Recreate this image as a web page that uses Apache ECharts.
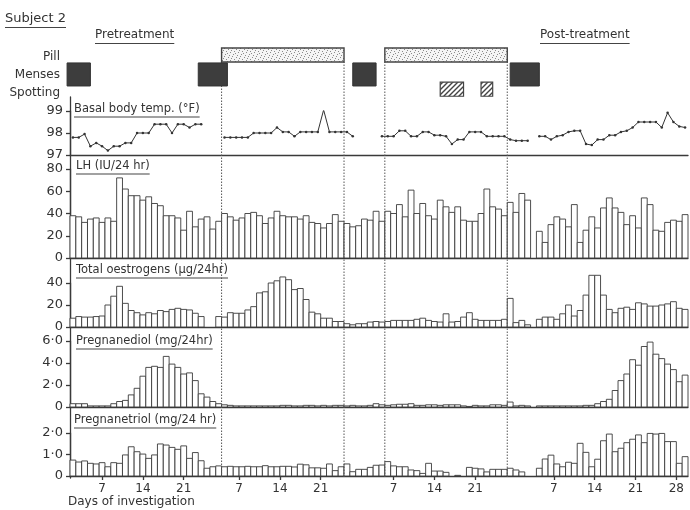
<!DOCTYPE html>
<html><head><meta charset="utf-8">
<script src="https://cdn.jsdelivr.net/npm/echarts@6/dist/echarts.min.js"></script>
<style>html,body{margin:0;padding:0;background:#fff}#c{width:690px;height:510px}</style>
</head><body><div id="c"></div>
<script>
// ---------------- DATA ----------------
const N = 106; // number of days shown (global day index 0..105)
// global index of cycle day 1 for each cycle, and the labelled cycle days
const cycleStarts = [-1, 22.5, 49, 76.5];
const cycleTickDays = [[7,14,21],[7,14,21],[7,14,21],[7,14,21,28]];
// event periods [start, end] in global days
const pillPeriods = [[26,47],[54,75]];
const mensesPeriods = [[-0.5,3.5],[22,27],[48.5,52.5],[75.5,80.5]];
const spottingPeriods = [[63.5,67.5],[70.5,72.5]];
const eventRows = ['Pill','Menses','Spotting'];

const bbt = [97.8,97.8,97.95,97.4,97.55,97.4,97.2,97.4,97.4,97.55,97.55,98.0,98.0,98.0,98.4,98.4,98.4,98.0,98.4,98.4,98.25,98.4,98.4,
 null,null,null,
 97.8,97.8,97.8,97.8,97.8,98.0,98.0,98.0,98.0,98.25,98.05,98.05,97.85,98.05,98.05,98.05,98.05,99.05,98.05,98.05,98.05,98.05,97.85,
 null,null,null,null,
 97.85,97.85,97.85,98.1,98.1,97.85,97.85,98.05,98.05,97.9,97.9,97.85,97.5,97.7,97.7,98.05,98.05,98.05,97.85,97.85,97.85,97.85,97.7,97.65,97.65,97.65,
 null,
 97.85,97.85,97.7,97.85,97.9,98.05,98.1,98.1,97.5,97.45,97.7,97.7,97.9,97.9,98.05,98.1,98.25,98.5,98.5,98.5,98.5,98.25,98.92,98.5,98.3,98.25];

const lh = [38,37,32,35,36,32,36,33,
 72,
 62,56,56,52,55,49,47,38,38,36,25,42,28,35,37,26,33,
 40,37,34,36,40,41,38,31,36,42,38,37,37,35,38,32,31,27,31,39,33,
 31,28,29,35,34,42,33,
 42,40,48,37,61,40,49,38,35,52,46,41,46,34,33,33,40,62,46,44,38,
 50,41,58,52,
 null,
 24,14,30,37,35,28,48,14,25,37,27,45,54,45,41,30,38,27,54,48,25,24,32,34,33,39];

const oestrogens = [8,9.5,9,9,9.5,10,
 20,28,37,
 21.5,15,13,11,13,12,15,14,16,17,16,15.5,12.5,9.5,
 null,null,
 9.5,
 9,13,12.5,12.5,15.5,18.5,31,32,40,42,45.5,43,34,35,25,13.5,12,8,8,5,5,
 3,2,3,3,4.5,5,4.5,
 5,6,6,6,6,7,8,6,5,4.5,12,4.5,5,9,13,7,6,6,6,6,7,
 26,4,6,2,
 null,
 7,9,9,7,12,20,10,15,29,47,47,29,16,13,17,18,16,22,21,19,19,20,21,23,17,16];

const pregnanediol = [0.3,0.3,0.3,0.1,0.1,0.1,0.1,0.3,0.5,0.6,
 1.1,1.7,2.8,3.6,3.7,3.6,4.6,3.9,3.6,3.0,3.1,2.4,1.2,0.9,0.5,0.3,
 0.2,0.15,0.1,0.1,0.1,0.1,0.1,0.1,0.1,0.1,0.15,0.15,0.1,0.1,0.15,0.15,0.1,0.15,0.1,0.15,0.15,
 0.1,0.15,0.1,0.1,0.15,0.3,0.2,
 0.15,0.2,0.25,0.25,0.3,0.15,0.15,0.2,0.2,0.15,0.2,0.2,0.2,0.1,0.05,0.15,0.1,0.1,0.2,0.2,0.15,
 0.45,0.1,0.15,0.1,null,
 0.1,0.1,0.1,0.1,0.1,0.1,0.1,0.1,
 0.15,0.15,0.3,0.5,0.7,1.5,2.4,3.0,4.3,3.8,5.5,5.9,4.8,4.4,3.9,3.4,2.3,2.9];

const pregnanetriol = [0.74,0.65,0.7,0.59,0.56,0.62,0.43,0.62,0.59,0.98,1.36,1.13,1.02,0.82,0.98,1.49,1.44,1.33,1.24,1.40,0.82,1.09,0.71,0.36,0.43,0.47,
 0.43,0.45,0.43,0.43,0.45,0.43,0.43,0.48,0.43,0.43,0.45,0.45,0.42,0.55,0.52,0.38,0.38,0.36,0.56,0.25,0.43,
 0.56,0.2,0.31,0.31,0.4,0.5,0.51,
 0.67,0.47,0.43,0.43,0.28,0.25,0.12,0.59,0.23,0.23,0.17,null,0.03,null,0.4,0.36,0.33,0.19,0.31,0.31,0.31,
 0.36,0.28,0.19,null,null,
 0.36,0.79,0.97,0.56,0.43,0.64,0.59,1.52,1.1,0.43,0.78,1.64,1.95,1.13,1.29,1.55,1.71,1.91,1.55,1.98,1.95,1.98,1.6,1.6,0.59,0.9];

const bbtTicks = [97, 99, 1];      // min, max, interval
const lhTicks = [0, 80, 20];
const oeTicks = [0, 40, 20];
const pdTicks = [0, 6, 2];
const ptTicks = [0, 2, 1];

const titles = {
  subject: 'Subject 2', pre: 'Pretreatment', post: 'Post-treatment',
  bbt: 'Basal body temp. (°F)', lh: 'LH (IU/24 hr)', oe: 'Total oestrogens (μg/24hr)',
  pd: 'Pregnanediol (mg/24hr)', pt: 'Pregnanetriol (mg/24 hr)', x: 'Days of investigation'
};

// ---------------- LAYOUT / STYLE ----------------
const FONT = 'DejaVu Sans';
const INK = '#333';
const GL = 70, GR = 2;
const panelLayout = [
  {top:111, height:44}, {top:169, height:89}, {top:283, height:44}, {top:341, height:66}, {top:433, height:43}
];

const chart = echarts.init(document.getElementById('c'), null, {renderer:'canvas'});

function makeStipple(){
  const c = document.createElement('canvas'); c.width = 8; c.height = 8;
  const x = c.getContext('2d'); x.fillStyle = '#f4f4f4'; x.fillRect(0,0,8,8);
  x.fillStyle = '#8a8a8a';
  [[0,0],[4,1],[2,3],[6,4],[1,6],[5,7],[3,5],[7,2]].forEach(p => x.fillRect(p[0],p[1],1,1));
  return c;
}
function makeHatch(){
  const c = document.createElement('canvas'); c.width = 5; c.height = 5;
  const x = c.getContext('2d'); x.fillStyle = '#fff'; x.fillRect(0,0,5,5);
  x.strokeStyle = '#444'; x.lineWidth = 1.4;
  x.beginPath(); x.moveTo(-1,6); x.lineTo(6,-1); x.moveTo(-1,1); x.lineTo(1,-1); x.moveTo(4,6); x.lineTo(6,4); x.stroke();
  return c;
}
const stipple = {image: makeStipple(), repeat: 'repeat'};
const hatch = {image: makeHatch(), repeat: 'repeat'};

const rowStyle = [
  {off:0.0, h:0.78, style:{fill: stipple, stroke:'#444', lineWidth:1.4}},
  {off:-0.17, h:1.28, style:{fill:'#3d3d3d', stroke:'#333', lineWidth:1}},
  {off:-0.1, h:0.78, style:{fill: hatch, stroke:'#444', lineWidth:1.2}}
];

const eventData = [];
pillPeriods.forEach(p => eventData.push([p[0], p[1], 0]));
mensesPeriods.forEach(p => eventData.push([p[0], p[1], 1]));
spottingPeriods.forEach(p => eventData.push([p[0], p[1], 2]));

// boundaries for dotted lines: start/end of pill periods
const boundaries = [];
pillPeriods.forEach(p => { boundaries.push([p[0], 0]); boundaries.push([p[1], 0]); });

// bottom tick positions
const tickPos = [], tickText = {};
cycleStarts.forEach((s, ci) => cycleTickDays[ci].forEach(d => {
  const pos = s + d - 1 + 0.5; tickPos.push(pos); tickText[pos.toFixed(2)] = String(d);
}));

function barRender(params, api){
  const g = api.value(0), v = api.value(1);
  const a = api.coord([g, 0]), b = api.coord([g + 1, v]);
  return {type:'rect', shape:{x:a[0], y:b[1], width:b[0]-a[0], height:a[1]-b[1]},
    style:{fill:'#fff', stroke:'#3a3a3a', lineWidth:0.9}};
}
function eventRender(params, api){
  const s = api.value(0), e = api.value(1), row = api.value(2);
  const a = api.coord([s, row]), b = api.coord([e, row]);
  const band = api.size([0, 1])[1];
  const st = rowStyle[row];
  return {type:'rect', shape:{x:a[0], y:a[1] - band/2 + band*st.off, width:b[0]-a[0], height:band*st.h}, style: st.style};
}
function lineRender(params, api){
  const x = api.value(0);
  const a = api.coord([x, 0]), b = api.coord([x, 1]);
  return {type:'line', shape:{x1:a[0], y1:a[1], x2:b[0], y2:b[1]},
    style:{stroke:'#555', lineWidth:1, lineDash:[1.5,1.5]}};
}
const toPairs = arr => arr.map((v,i) => v == null ? null : [i, v]).filter(Boolean);
const dotFmt = v => v === 0 ? '0' : v.toFixed(1).replace('.', '·');

const grids = [{left:GL, right:GR, top:48, height:54}]
  .concat(panelLayout.map(p => ({left:GL, right:GR, top:p.top, height:p.height})))
  .concat([{left:GL, right:GR, top:62, height:415}, {left:GL, right:GR, top:97, height:381}]);

const axisLineStyle = {color:'#3a3a3a', width:1.3};
const xAxes = grids.map((g, i) => {
  const isPanel = i >= 1 && i <= 5;
  const isBottom = i === 5;
  return {
    type:'value', gridIndex:i, min:0, max:N, show: isPanel,
    axisLine:{show:isPanel, onZero:false, lineStyle:axisLineStyle},
    splitLine:{show:false},
    axisTick: isBottom ? {show:true, customValues: tickPos, length:4, lineStyle:axisLineStyle} : {show:false},
    axisLabel: isBottom ? {show:true, customValues: tickPos, formatter: v => tickText[Number(v).toFixed(2)] || '',
      fontFamily:FONT, fontSize:12, color:INK, margin:7} : {show:false}
  };
});

const tickSets = [bbtTicks, lhTicks, oeTicks, pdTicks, ptTicks];
const fmts = [v=>String(v), v=>String(v), v=>String(v), dotFmt, dotFmt];
const yAxes = [{
  type:'category', gridIndex:0, data: eventRows, inverse:true,
  axisLine:{show:false}, axisTick:{show:false}, splitLine:{show:false},
  axisLabel:{fontFamily:FONT, fontSize:12, color:INK, margin:10}
}].concat(tickSets.map((t, k) => ({
  type:'value', gridIndex:k+1, min:t[0], max:t[1], interval:t[2],
  axisLine:{show:true, lineStyle:axisLineStyle},
  axisTick:{show:true, length:4, lineStyle:axisLineStyle},
  splitLine:{show:false},
  axisLabel:{formatter: fmts[k], fontFamily:FONT, fontSize:13, color:INK, margin:7}
}))).concat([
  {type:'value', gridIndex:6, min:0, max:1, show:false},
  {type:'value', gridIndex:7, min:0, max:1, position:'right', axisLine:{show:true, lineStyle:axisLineStyle},
   axisTick:{show:false}, axisLabel:{show:false}, splitLine:{show:false}}
]);

const barSeries = [lh, oestrogens, pregnanediol, pregnanetriol].map((arr, k) => ({
  type:'custom', xAxisIndex:k+2, yAxisIndex:k+2, renderItem: barRender, clip:false,
  encode:{x:0, y:1}, data: toPairs(arr), z:2, silent:true
}));

const series = [
  {type:'custom', xAxisIndex:0, yAxisIndex:0, renderItem: eventRender, encode:{x:[0,1], y:2},
   data: eventData, z:6, silent:true},
  {type:'line', xAxisIndex:1, yAxisIndex:1, data: bbt.map((v,i) => [i + 0.5, v]),
   connectNulls:false, symbol:'circle', symbolSize:2.5, showSymbol:true,
   lineStyle:{color:'#333', width:1}, itemStyle:{color:'#333'}, z:3, silent:true}
].concat(barSeries).concat([
  {type:'custom', xAxisIndex:6, yAxisIndex:6, renderItem: lineRender, encode:{x:0, y:1},
   data: boundaries, z:4, silent:true}
]);

// underlined titles (graphic text)
const mctx = document.createElement('canvas').getContext('2d');
function tw(text, size){ mctx.font = size + 'px "' + FONT + '"'; return mctx.measureText(text).width; }
function titled(text, x, y, size, underline){
  const els = [{type:'text', x:x, y:y, z:10, style:{text:text, font: size + 'px "' + FONT + '"', fill:INK, verticalAlign:'top'}}];
  if (underline) els.push({type:'line', z:10, shape:{x1:x, y1:y + size + 2.5, x2:x + tw(text, size), y2:y + size + 2.5},
    style:{stroke:'#444', lineWidth:1.2}});
  return els;
}
const graphics = [].concat(
  titled(titles.subject, 5, 12, 13, true),
  titled(titles.pre, 95, 29, 12, true),
  titled(titles.post, 540, 29, 12, true),
  titled(titles.bbt, 74, 103, 11.5, true),
  titled(titles.lh, 76, 160, 11.5, true),
  titled(titles.oe, 76, 264, 11.5, true),
  titled(titles.pd, 76, 335, 11.5, true),
  titled(titles.pt, 74, 414, 11.5, true),
  titled(titles.x, 68, 496, 12, false)
);

chart.setOption({
  backgroundColor:'#fff', animation:false,
  grid: grids, xAxis: xAxes, yAxis: yAxes, series: series, graphic: graphics
});
</script></body></html>
